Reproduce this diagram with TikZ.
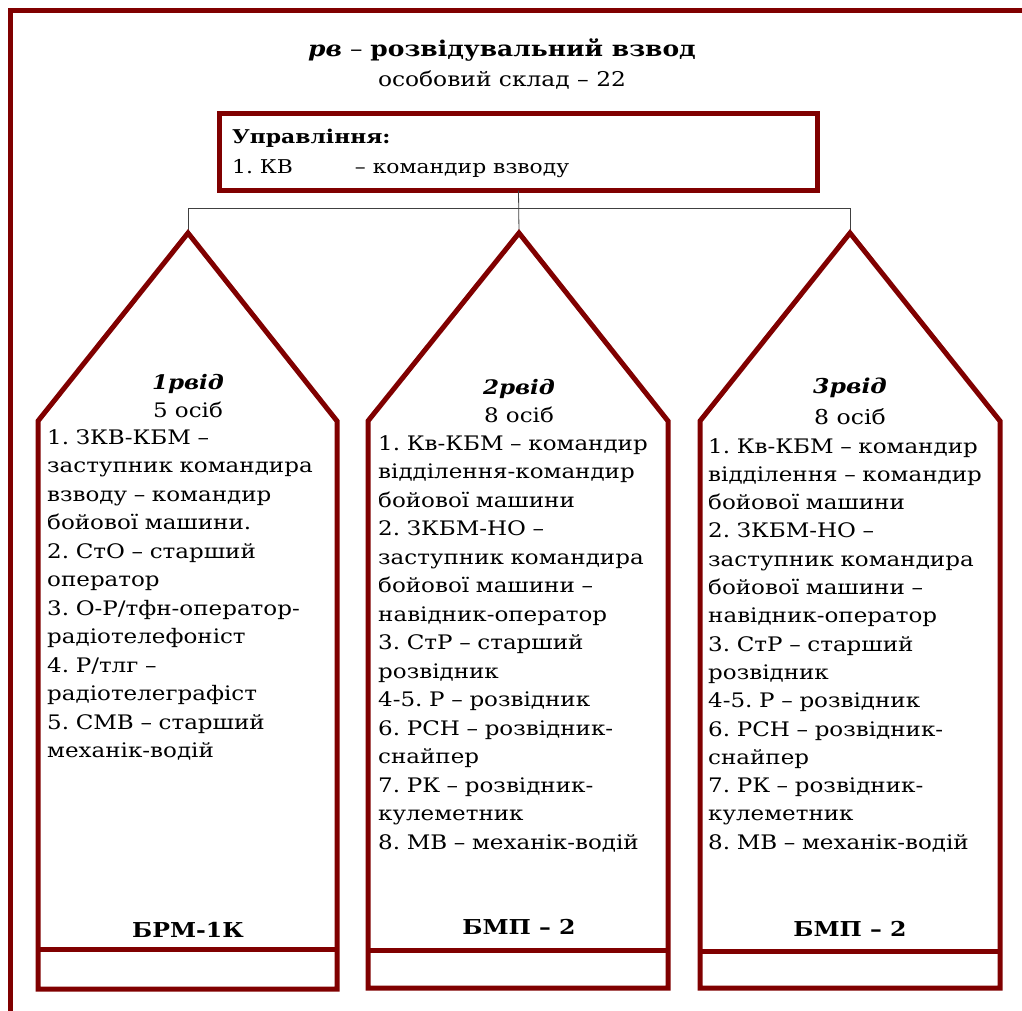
\documentclass[tikz,border=0pt]{standalone}
\usepackage{fontspec}
\setmainfont[FakeStretch=1.15]{DejaVu Serif}
\definecolor{frame}{HTML}{800000}
\begin{document}
\frenchspacing
\begin{tikzpicture}[x=1pt,y=-1pt,
  border/.style={draw=frame, line width=5pt, line join=miter},
  conn/.style={draw=black!75, line width=0.8pt},
  body/.style={font=\fontsize{20}{28.5}\selectfont, inner sep=0pt},
  listtext/.style={body, anchor=north west, align=left, text width=295pt},
  head/.style={body, align=center},
  veh/.style={body, font=\fontsize{20.5}{24}\selectfont\bfseries}
]
\useasboundingbox (0,0) rectangle (1022,1010);
% outer frame (partly visible)
\draw[border] (10.5,1012) -- (10.5,10.5) -- (1024,10.5);

% title
\node[body, font=\fontsize{21.7}{26}\selectfont] (title) at (502,50)
  {\textbf{\textit{рв}} – \textbf{розвідувальний взвод}};
\node[body, font=\fontsize{20.3}{26}\selectfont] (sub) at (502,80) {особовий склад – 22};

% control box
\node[border, minimum width=598pt, minimum height=77pt, inner sep=0pt, outer sep=0pt] (ctrl) at (518.5,152) {};
\node[body, font=\fontsize{19}{30}\selectfont, anchor=north west, align=left] (ctrltxt) at (232,129)
  {\textbf{Управління:}\\1. КВ\hspace{62pt}– командир взводу};

% apex coordinates
\coordinate (a1) at (188,233);
\coordinate (a2) at (519,233);
\coordinate (a3) at (850,233);
\coordinate (bus) at (0,208);

% connectors
\draw[conn] (ctrl.south) -- (a2);
\draw[conn] (a1) -- (a1 |- bus) -- (a3 |- bus) -- (a3);

% pentagons
\draw[border] (38,989) -- (38,421) -- (a1) -- (337,421) -- (337,989) -- cycle;
\draw[border] (38,949) -- (337,949);
\draw[border] (368,988) -- (368,421) -- (a2) -- (668,421) -- (668,988) -- cycle;
\draw[border] (368,950) -- (668,950);
\draw[border] (700,988) -- (700,421) -- (a3) -- (1000,421) -- (1000,988) -- cycle;
\draw[border] (700,951) -- (1000,951);

% column 1
\node[head] (h1) at (188,396) {\textbf{\textit{1рвід}}\\5 осіб};
\node[listtext] (l1) at (47,429) {1. ЗКВ-КБМ –\\заступник командира\\взводу – командир\\бойової машини.\\2. СтО – старший\\оператор\\3. О-Р/тфн-оператор-\\радіотелефоніст\\4. Р/тлг –\\радіотелеграфіст\\5. СМВ – старший\\механік-водій};
\node[veh] (v1) at (188,930) {БРМ-1К};

% column 2
\node[head] (h2) at (519,401) {\textbf{\textit{2рвід}}\\8 осіб};
\node[listtext] (l2) at (378,435) {1. Кв-КБМ – командир\\відділення-командир\\бойової машини\\2. ЗКБМ-НО –\\заступник командира\\бойової машини –\\навідник-оператор\\3. СтР – старший\\розвідник\\4-5. Р – розвідник\\6. РСН – розвідник-\\снайпер\\7. РК – розвідник-\\кулеметник\\8. МВ – механік-водій};
\node[veh] (v2) at (519,927) {БМП – 2};

% column 3
\node[head, font=\fontsize{20.5}{31}\selectfont] (h3) at (850,401) {\textbf{\textit{3рвід}}\\8 осіб};
\node[listtext, font=\fontsize{20}{28.3}\selectfont] (l3) at (708,438) {1. Кв-КБМ – командир\\відділення – командир\\бойової машини\\2. ЗКБМ-НО –\\заступник командира\\бойової машини –\\навідник-оператор\\3. СтР – старший\\розвідник\\4-5. Р – розвідник\\6. РСН – розвідник-\\снайпер\\7. РК – розвідник-\\кулеметник\\8. МВ – механік-водій};
\node[veh] (v3) at (850,929) {БМП – 2};
\end{tikzpicture}
\end{document}
